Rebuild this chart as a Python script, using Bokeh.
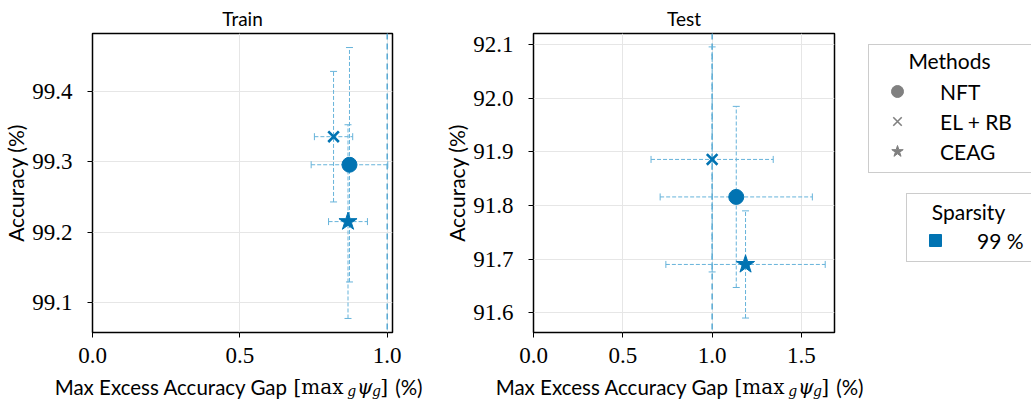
import math
from bokeh.plotting import figure
from bokeh.models import (Range1d, FixedTicker, PrintfTickFormatter, ColumnDataSource,
                          Span, Legend, LegendItem)
from bokeh.core.properties import value
from bokeh.layouts import row, column
from bokeh.embed import file_html
from bokeh.resources import INLINE

# ---------------- data ----------------
methods = ["NFT", "EL + RB", "CEAG"]
method_markers = ["circle", "x", "star"]

train_gap = [0.872, 0.818, 0.867]
train_gap_err = [0.130, 0.065, 0.066]
train_acc = [99.296, 99.336, 99.215]
train_acc_err = [0.167, 0.093, 0.138]

test_gap = [1.135, 1.000, 1.187]
test_gap_err = [0.426, 0.342, 0.446]
test_acc = [91.816, 91.886, 91.690]
test_acc_err = [0.169, 0.210, 0.100]

sparsity_levels = ["99 %"]
reference_gap = 1.0

train_xticks = [0.0, 0.5, 1.0]
train_yticks = [99.1, 99.2, 99.3, 99.4]
test_xticks = [0.0, 0.5, 1.0, 1.5]
test_yticks = [91.6, 91.7, 91.8, 91.9, 92.0, 92.1]

# ---------------- style ----------------
BLUE = "#0173b2"
ERR = "#66b3da"
VLINE = "#4aa3d0"
GRAY = "#808080"
SANS = "Lato"
SERIF = "Liberation Serif"
MATH = "DejaVu Serif"
MARKER_SIZE = {"circle": 15, "x": 15, "star": 19}

W_TOTAL = 1031
H_PLOT = 374
H_STRIP = 26
BORDER_L = 92
W1, W2 = 441, 413
W3 = W_TOTAL - W1 - W2
FRAME_H = 298


def make_panel(title, gap, gap_err, acc, acc_err, xr, yr, xticks, yticks, width, right_border):
    p = figure(width=width, height=H_PLOT, x_range=Range1d(*xr), y_range=Range1d(*yr),
               output_backend="svg", toolbar_location=None,
               min_border_left=BORDER_L, min_border_right=right_border,
               min_border_top=26, min_border_bottom=42)
    p.title.text = title
    p.title.align = "center"
    p.title.text_font = SANS
    p.title.text_font_size = "19px"
    p.title.text_font_style = "normal"
    p.title.text_color = "black"
    p.title.standoff = 8

    p.outline_line_color = "black"
    p.outline_line_width = 1.5
    p.outline_line_alpha = 1

    p.xaxis.ticker = FixedTicker(ticks=xticks)
    p.yaxis.ticker = FixedTicker(ticks=yticks)
    p.xaxis.formatter = PrintfTickFormatter(format="%.1f")
    p.yaxis.formatter = PrintfTickFormatter(format="%.1f")
    for ax in (p.xaxis[0], p.yaxis[0]):
        ax.axis_line_color = None
        ax.major_tick_out = 5
        ax.major_tick_in = 0
        ax.major_tick_line_color = "black"
        ax.major_tick_line_width = 1
        ax.minor_tick_line_color = None
        ax.major_label_text_font = SERIF
        ax.major_label_text_font_size = "23px"
        ax.major_label_text_color = "black"
    p.xaxis.major_label_standoff = 10
    p.yaxis.major_label_standoff = 15

    p.yaxis.axis_label = "Accuracy (%)"
    p.yaxis.axis_label_text_font = SANS
    p.yaxis.axis_label_text_font_size = "21px"
    p.yaxis.axis_label_text_font_style = "normal"
    p.yaxis.axis_label_text_color = "black"
    p.yaxis.axis_label_standoff = 1

    p.xgrid.ticker = FixedTicker(ticks=xticks)
    p.ygrid.ticker = FixedTicker(ticks=yticks)
    p.grid.grid_line_color = "#e6e6e6"
    p.grid.grid_line_width = 1

    # reference line
    p.add_layout(Span(location=reference_gap, dimension="height", line_color=VLINE,
                      line_dash="6 4", line_width=1.4, level="underlay"))

    # error bars (dashed segments + small caps)
    src = ColumnDataSource(dict(
        x=gap, y=acc,
        xl=[g - e for g, e in zip(gap, gap_err)], xu=[g + e for g, e in zip(gap, gap_err)],
        yl=[a - e for a, e in zip(acc, acc_err)], yu=[a + e for a, e in zip(acc, acc_err)]))
    p.segment(x0="x", y0="yl", x1="x", y1="yu", source=src, line_color=ERR,
              line_width=1, line_dash="4 2")
    p.segment(x0="xl", y0="y", x1="xu", y1="y", source=src, line_color=ERR,
              line_width=1, line_dash="4 2")
    for cx, cy, ang in (("x", "yl", 0.0), ("x", "yu", 0.0),
                        ("xl", "y", math.pi / 2), ("xu", "y", math.pi / 2)):
        p.scatter(x=cx, y=cy, source=src, marker="dash", size=7, angle=ang,
                  line_color=ERR, line_width=1)

    # markers
    for i, m in enumerate(method_markers):
        if m == "x":
            p.scatter([gap[i]], [acc[i]], marker=m, size=MARKER_SIZE[m], line_color=BLUE,
                      line_width=2.6)
        else:
            p.scatter([gap[i]], [acc[i]], marker=m, size=MARKER_SIZE[m], fill_color=BLUE,
                      line_color=BLUE, line_width=1)
    return p


p1 = make_panel("Train", train_gap, train_gap_err, train_acc, train_acc_err,
                (0.0, 1.018), (99.057, 99.483), train_xticks, train_yticks, W1,
                W1 - BORDER_L - 300)
p2 = make_panel("Test", test_gap, test_gap_err, test_acc, test_acc_err,
                (0.0, 1.685), (91.563, 92.121), test_xticks, test_yticks, W2,
                W2 - BORDER_L - 301)

# ---------------- x-axis label strip (sans text + math pieces) ----------------
strip = figure(width=W_TOTAL, height=H_STRIP, x_range=Range1d(0, W_TOTAL),
               y_range=Range1d(0, H_STRIP), output_backend="svg", toolbar_location=None,
               x_axis_type=None, y_axis_type=None, title=None,
               min_border_left=0, min_border_right=0, min_border_top=0, min_border_bottom=0)
strip.outline_line_color = None
strip.grid.visible = False

# (offset from frame left, baseline, text, font, size, style, align)
pieces = [
    (195.7, 14, "Max Excess Accuracy Gap", SANS, "20.5px", "normal", "right"),
    (201, 14, "[max", MATH, "20px", "normal", "left"),
    (254.7, 10, "g", MATH, "14px", "italic", "left"),
    (264.4, 14, "ψ", MATH, "20px", "italic", "left"),
    (279.4, 10, "g", MATH, "14px", "italic", "left"),
    (287.7, 14, "]", MATH, "20px", "normal", "left"),
    (302.7, 14, "(%)", SANS, "20.5px", "normal", "left"),
]
for frame_left in (BORDER_L, W1 + BORDER_L):
    for dx, yb, txt, font, size, style, align in pieces:
        strip.text(x=[frame_left + dx], y=[yb], text=[txt], text_font=value(font),
                   text_font_size=value(size), text_font_style=style, text_align=align,
                   text_baseline="alphabetic", text_color="black")

# ---------------- legend figure (frame aligned with the panels' frames) ----------------
p3 = figure(width=W3, height=H_PLOT, x_range=Range1d(0, W3), y_range=Range1d(0, FRAME_H),
            output_backend="svg", toolbar_location=None, x_axis_type=None, y_axis_type=None,
            title=None, min_border_left=0, min_border_right=0, min_border_top=0,
            min_border_bottom=0)
p3.outline_line_color = None
p3.grid.visible = False

# legend handles: one hidden point each, kept outside the visible range
hx, hy = [-100.0], [-100.0]
method_items = []
for name, m in zip(methods, method_markers):
    if m == "x":
        r = p3.scatter(x=hx, y=hy, marker=m, line_color=GRAY, line_width=1.6)
    else:
        r = p3.scatter(x=hx, y=hy, marker=m, fill_color=GRAY, line_color=GRAY)
    method_items.append(LegendItem(label=name, renderers=[r]))

sq = p3.scatter(x=hx, y=hy, marker="square", fill_color=BLUE, line_color=BLUE)
sparsity_items = [LegendItem(label=s, renderers=[sq]) for s in sparsity_levels]

common_leg = dict(title=" ", title_text_font=SANS, title_text_font_size="21px",
                  title_text_font_style="normal",
                  label_text_font=SANS, label_text_font_size="21px", label_text_color="black",
                  glyph_width=44, glyph_height=30, padding=6, spacing=0, margin=0,
                  border_line_color="#cccccc", border_line_width=1, border_line_alpha=1,
                  background_fill_alpha=0, title_standoff=0)

leg1 = Legend(items=method_items, location=(14, 159), label_standoff=21, label_width=85,
              **common_leg)
leg2 = Legend(items=sparsity_items, location=(52, 70), label_standoff=20, label_width=48,
              **common_leg)
p3.add_layout(leg1)
p3.add_layout(leg2)

# centred legend titles
legend_titles = ["Methods", "Sparsity"]
p3.text(x=[95, 114], y=[271, 121], text=legend_titles, text_font=value(SANS),
        text_font_size=value("21px"), text_align="center", text_baseline="alphabetic",
        text_color="black")

layout = column(row(p1, p2, p3), strip)
open("out.html", "w").write(file_html(layout, INLINE))
